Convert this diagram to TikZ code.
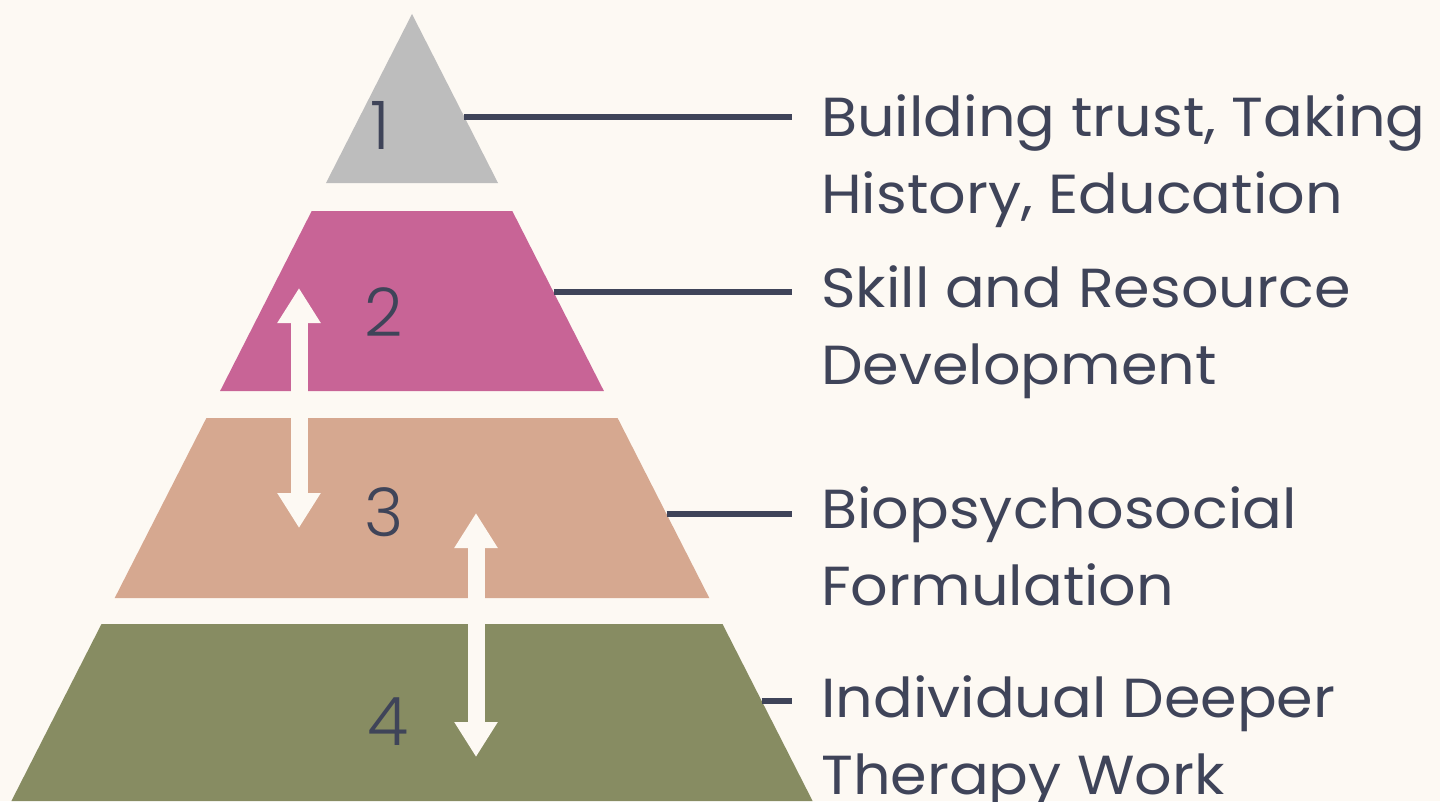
\documentclass[tikz,border=0pt]{standalone}
\usepackage{fontspec}
\setmainfont{Poppins}[FakeStretch=1.07]
\newfontfamily\numfont{Poppins Light}
\usetikzlibrary{arrows.meta}

\definecolor{cream}{HTML}{FDF9F3}
\definecolor{slate}{HTML}{3F4459}
\definecolor{tierone}{HTML}{BDBDBD}
\definecolor{tiertwo}{HTML}{C86496}
\definecolor{tierthree}{HTML}{D6A890}
\definecolor{tierfour}{HTML}{878C62}

\begin{document}
\begin{tikzpicture}[x=1bp, y=-1bp,
    num/.style = {font=\numfont\fontsize{67bp}{67bp}\selectfont,
        text=slate, inner sep=0pt},
    lab/.style = {font=\fontsize{55bp}{77bp}\selectfont,
        text=slate, align=left, anchor=base west, inner sep=0pt},
    conn/.style = {draw=slate, line width=6.5bp, shorten >=29bp},
    updown/.style = {draw=cream, line width=17bp,
        {Triangle[length=35bp,width=41bp]}-{Triangle[length=35bp,width=41bp]}}]

% Background
\fill[cream] (0,0) rectangle (1440,801);
\useasboundingbox (0,0) rectangle (1440,801);

% Tier 1
\fill[tierone] (412,14) -- (498,183) -- (326,183) -- cycle;

% Tier 2
\fill[tiertwo] (311.7,211) -- (512.3,211) -- (603.9,391) -- (220.1,391) -- cycle;

% Tier 3
\fill[tierthree] (206.4,418) -- (617.6,418) -- (709.3,598) -- (114.7,598) -- cycle;

% Tier 4
\fill[tierfour] (101.5,624) -- (722.5,624) -- (812.6,801) -- (11.4,801) -- cycle;

% Numbers
\node[num] (n1) at (380,125) {1};
\node[num] (n2) at (384,312) {2};
\node[num] (n3) at (384,512) {3};
\node[num] (n4) at (388,722) {4};

% Two-way arrows
\coordinate (a1) at (299,288);
\coordinate (a2) at (299,528);
\coordinate (b1) at (476,513);
\coordinate (b2) at (476,757);
\draw[updown] (a1) -- (a2);
\draw[updown] (b1) -- (b2);

% Labels (placed by the baseline of the second line)
\node[lab] (t1) at (821,213) {Building trust, Taking\\History, Education};
\node[lab] (t2) at (821,384) {Skill and Resource\\Development};
\node[lab] (t3) at (821,605) {Biopsychosocial\\Formulation};
\node[lab] (t4) at (821,794) {Individual Deeper\\Therapy Work};

% Points on the right edge
\coordinate (e1) at (464.4,117);
\coordinate (e2) at (553.5,292);
\coordinate (e3) at (666.5,514);
\coordinate (e4) at (761.7,701);

% Connectors
\draw[conn] (e1) -- (e1 -| t1.west);
\draw[conn] (e2) -- (e2 -| t2.west);
\draw[conn] (e3) -- (e3 -| t3.west);
\draw[conn] (e4) -- (e4 -| t4.west);

\end{tikzpicture}
\end{document}
